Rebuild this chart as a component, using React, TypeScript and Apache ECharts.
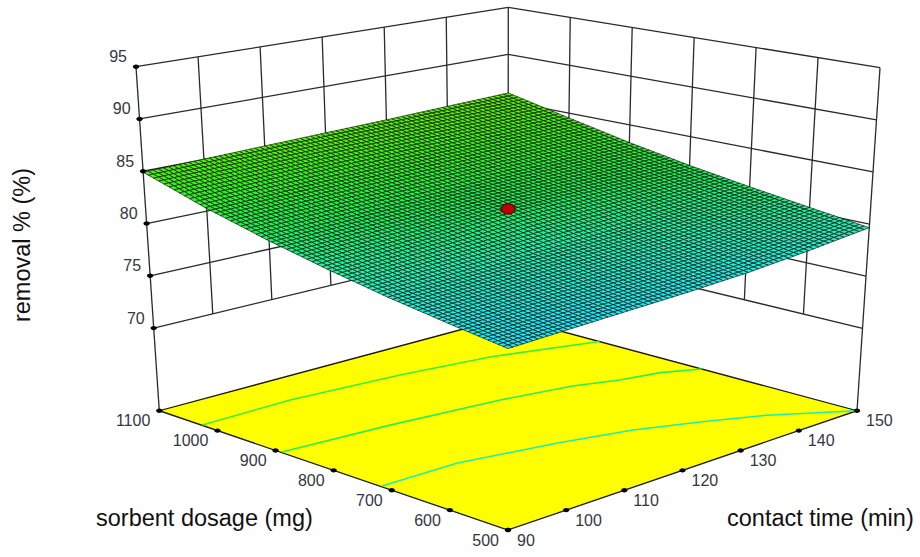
import React, { useEffect, useRef } from "react";
import * as echarts from "echarts";

// Values
const timeTicks = [90, 100, 110, 120, 130, 140, 150];
const dosageTicks = [500, 600, 700, 800, 900, 1000, 1100];
const removalTicks = [70, 75, 80, 85, 90, 95];

// removal % read at each (dosage row, time column) tick crossing
const removal500 = [77.6, 77.8, 78.0, 78.2, 78.5, 79.0, 79.65];
const removal600 = [78.35, 78.6, 78.85, 79.1, 79.4, 79.85, 80.4];
const removal700 = [79.2, 79.45, 79.75, 80.05, 80.35, 80.75, 81.2];
const removal800 = [80.25, 80.6, 81.0, 81.5, 81.7, 81.9, 82.1];
const removal900 = [81.5, 81.8, 82.1, 82.4, 82.7, 82.95, 83.2];
const removal1000 = [83.0, 83.25, 83.5, 83.75, 84.0, 84.25, 84.5];
const removal1100 = [84.9, 85.05, 85.2, 85.35, 85.5, 85.7, 85.9];
const removalRows = [removal500, removal600, removal700, removal800, removal900, removal1000, removal1100];

const centerPoint = [120, 800, 81.93];

// floor contours as [time, dosage]
const contourHigh = [[90.1, 1027], [105.4, 1029], [122.7, 1013], [136, 991], [150, 943]];
const contourMid = [[90.2, 891], [107.4, 877], [124.2, 855.5], [134.4, 833], [140.1, 809], [145.6, 794], [150, 767]];
const contourLow = [[90.2, 719], [103, 717], [117, 685], [126.9, 654], [134.6, 616], [141.8, 573], [150, 500]];
const contours = [contourHigh, contourMid, contourLow];
const contourColors = ["#38f038", "#28f050", "#18f0b0"];

// colour scale of the surface
const colorRemovals = [77.6, 80, 82, 84, 86];
const colorStops = ["#22e4ff", "#28f0a8", "#20ee50", "#3cf01c", "#66f000"];

// view box of the 3D frame on the page
const RMIN = 62.1;
const RMAX = 95;
const FLOOR = { f: [508, 530], l: [159.3, 410.7], r: [857, 410.7], b: [508, 317] };
const TOP = { f: [508, 145], l: [136, 66.7], r: [880, 67.7], b: [508.3, 7.3] };
const SUB = 12;

const bil = (c: any, u: number, v: number, i: number) =>
  c.f[i] * (1 - u) * (1 - v) + c.r[i] * u * (1 - v) + c.l[i] * (1 - u) * v + c.b[i] * u * v;

function project(time: number, dosage: number, removal: number) {
  const u = (time - 90) / 60;
  const v = (dosage - 500) / 600;
  const w = (removal - RMIN) / (RMAX - RMIN);
  return [0, 1].map((i) => bil(FLOOR, u, v, i) + w * (bil(TOP, u, v, i) - bil(FLOOR, u, v, i)));
}

function colorOf(z: number) {
  const n = colorRemovals.length;
  if (z <= colorRemovals[0]) return colorStops[0];
  for (let i = 1; i < n; i++) {
    if (z <= colorRemovals[i]) {
      const t = (z - colorRemovals[i - 1]) / (colorRemovals[i] - colorRemovals[i - 1]);
      return echarts.color.lerp(t, [colorStops[i - 1], colorStops[i]]);
    }
  }
  return colorStops[n - 1];
}

// the renderer divides each tick-to-tick patch into fine mesh cells
function meshCells() {
  const out: number[][] = [];
  const dt = 10 / SUB;
  const dd = 100 / SUB;
  for (let r = removalRows.length - 2; r >= 0; r--) {
    for (let c = timeTicks.length - 2; c >= 0; c--) {
      const z00 = removalRows[r][c];
      const z10 = removalRows[r][c + 1];
      const z01 = removalRows[r + 1][c];
      const z11 = removalRows[r + 1][c + 1];
      const at = (a: number, b: number) =>
        z00 * (1 - a) * (1 - b) + z10 * a * (1 - b) + z01 * (1 - a) * b + z11 * a * b;
      for (let j = SUB - 1; j >= 0; j--) {
        for (let i = SUB - 1; i >= 0; i--) {
          const t = timeTicks[c] + i * dt;
          const d = dosageTicks[r] + j * dd;
          out.push([
            t, d, dt, dd,
            at(i / SUB, j / SUB),
            at((i + 1) / SUB, j / SUB),
            at((i + 1) / SUB, (j + 1) / SUB),
            at(i / SUB, (j + 1) / SUB),
          ]);
        }
      }
    }
  }
  return out;
}

const tMin = timeTicks[0];
const tMax = timeTicks[timeTicks.length - 1];
const dMin = dosageTicks[0];
const dMax = dosageTicks[dosageTicks.length - 1];
const zLow = removalTicks[0];
const zHigh = removalTicks[removalTicks.length - 1];

function wallSegments() {
  const segs: number[][] = [];
  removalTicks.forEach((z) => {
    segs.push([tMin, dMax, z, tMax, dMax, z]);
    segs.push([tMax, dMax, z, tMax, dMin, z]);
  });
  timeTicks.slice(1, -1).forEach((t) => segs.push([t, dMax, zLow, t, dMax, zHigh]));
  dosageTicks.slice(1, -1).forEach((d) => segs.push([tMax, d, zLow, tMax, d, zHigh]));
  segs.push([tMin, dMax, RMIN, tMin, dMax, zHigh]);
  segs.push([tMax, dMax, RMIN, tMax, dMax, zHigh]);
  segs.push([tMax, dMin, RMIN, tMax, dMin, zHigh]);
  return segs;
}

const FONT = '"Liberation Sans", Arial, sans-serif';
const TICK_COLOR = "#33373f";
const TITLE_FONT = `23.5px ${FONT}`;

function tickItems() {
  const items: any[] = [];
  removalTicks.forEach((z) => items.push([tMin, dMax, z, String(z), "right", -9, -10]));
  dosageTicks.forEach((d) => items.push([tMin, d, RMIN, String(d), "right", -9, 10]));
  timeTicks.forEach((t) => items.push([t, dMin, RMIN, String(t), "left", 9, 10]));
  return items;
}

export default function App() {
  const ref = useRef<HTMLDivElement>(null);
  useEffect(() => {
    document.body.style.margin = "0";
    const chart = echarts.init(ref.current!, null, { renderer: "svg" });
    const ticks = tickItems();
    chart.setOption({
      animation: false,
      backgroundColor: "#ffffff",
      grid: { left: 0, top: 0, width: 920, height: 557 },
      xAxis: { type: "value", min: 0, max: 920, show: false },
      yAxis: { type: "value", min: 0, max: 557, inverse: true, show: false },
      graphic: [
        { type: "text", x: 96, y: 518, silent: true, style: { text: "sorbent dosage (mg)", font: TITLE_FONT, fill: "#111", textVerticalAlign: "middle" } },
        { type: "text", x: 727, y: 518, silent: true, style: { text: "contact time (min)", font: TITLE_FONT, fill: "#111", textVerticalAlign: "middle" } },
        { type: "text", x: 22, y: 245, rotation: Math.PI / 2, silent: true, style: { text: "removal % (%)", font: TITLE_FONT, fill: "#111", textAlign: "center", textVerticalAlign: "middle" } },
      ],
      series: [
        {
          type: "custom", name: "walls", coordinateSystem: "cartesian2d", silent: true, clip: false, progressive: 0,
          data: wallSegments(),
          renderItem: (_p: any, api: any) => {
            const a = api.coord(project(api.value(0), api.value(1), api.value(2)));
            const b = api.coord(project(api.value(3), api.value(4), api.value(5)));
            return { type: "line", shape: { x1: a[0], y1: a[1], x2: b[0], y2: b[1] }, style: { stroke: "#2a2a2a", lineWidth: 1.3 } };
          },
        },
        {
          type: "custom", name: "floor", coordinateSystem: "cartesian2d", silent: true, clip: false, progressive: 0,
          data: [[tMin, dMin, tMax, dMax]],
          renderItem: (_p: any, api: any) => {
            const t0 = api.value(0), d0 = api.value(1), t1 = api.value(2), d1 = api.value(3);
            const pts = [[t0, d0], [t1, d0], [t1, d1], [t0, d1]].map(([t, d]) => api.coord(project(t, d, RMIN)));
            return { type: "polygon", shape: { points: pts }, style: { fill: "#ffff00", stroke: "#1a1a1a", lineWidth: 1.3 } };
          },
        },
        {
          type: "custom", name: "contours", coordinateSystem: "cartesian2d", silent: true, clip: false, progressive: 0,
          data: contours.map((_c, i) => [i]),
          renderItem: (_p: any, api: any) => {
            const i = api.value(0);
            const pts = contours[i].map(([t, d]) => api.coord(project(t, d, RMIN)));
            return { type: "polyline", shape: { points: pts }, style: { fill: "none", stroke: contourColors[i], lineWidth: 1.6 } };
          },
        },
        {
          type: "custom", name: "surface", coordinateSystem: "cartesian2d", silent: true, clip: false, progressive: 0,
          data: meshCells(),
          renderItem: (_p: any, api: any) => {
            const t = api.value(0), d = api.value(1), dt = api.value(2), dd = api.value(3);
            const z = [api.value(4), api.value(5), api.value(6), api.value(7)];
            const pts = [
              project(t, d, z[0]), project(t + dt, d, z[1]), project(t + dt, d + dd, z[2]), project(t, d + dd, z[3]),
            ].map((p) => api.coord(p));
            return {
              type: "polygon", shape: { points: pts },
              style: { fill: colorOf((z[0] + z[1] + z[2] + z[3]) / 4), stroke: "#000000", lineWidth: 0.6 },
            };
          },
        },
        {
          type: "custom", name: "center", coordinateSystem: "cartesian2d", silent: true, clip: false, progressive: 0,
          data: [centerPoint],
          renderItem: (_p: any, api: any) => {
            const c = api.coord(project(api.value(0), api.value(1), api.value(2)));
            return { type: "ellipse", shape: { cx: c[0], cy: c[1], rx: 7, ry: 5.2 }, style: { fill: "#c00000", stroke: "#2a0000", lineWidth: 1 } };
          },
        },
        {
          type: "custom", name: "ticks", coordinateSystem: "cartesian2d", silent: true, clip: false, progressive: 0,
          data: ticks.map((it) => it.slice(0, 3)),
          renderItem: (p: any, api: any) => {
            const c = api.coord(project(api.value(0), api.value(1), api.value(2)));
            const it = ticks[p.dataIndex];
            return {
              type: "group",
              children: [
                { type: "ellipse", shape: { cx: c[0], cy: c[1], rx: 3.2, ry: 2.2 }, style: { fill: "#000" } },
                {
                  type: "text", x: c[0] + it[5], y: c[1] + it[6],
                  style: { text: it[3], font: `16px ${FONT}`, fill: TICK_COLOR, textAlign: it[4], textVerticalAlign: "middle" },
                },
              ],
            };
          },
        },
      ],
    });
    return () => chart.dispose();
  }, []);
  return <div ref={ref} style={{ position: "absolute", left: 0, top: 0, width: 920, height: 557 }} />;
}
